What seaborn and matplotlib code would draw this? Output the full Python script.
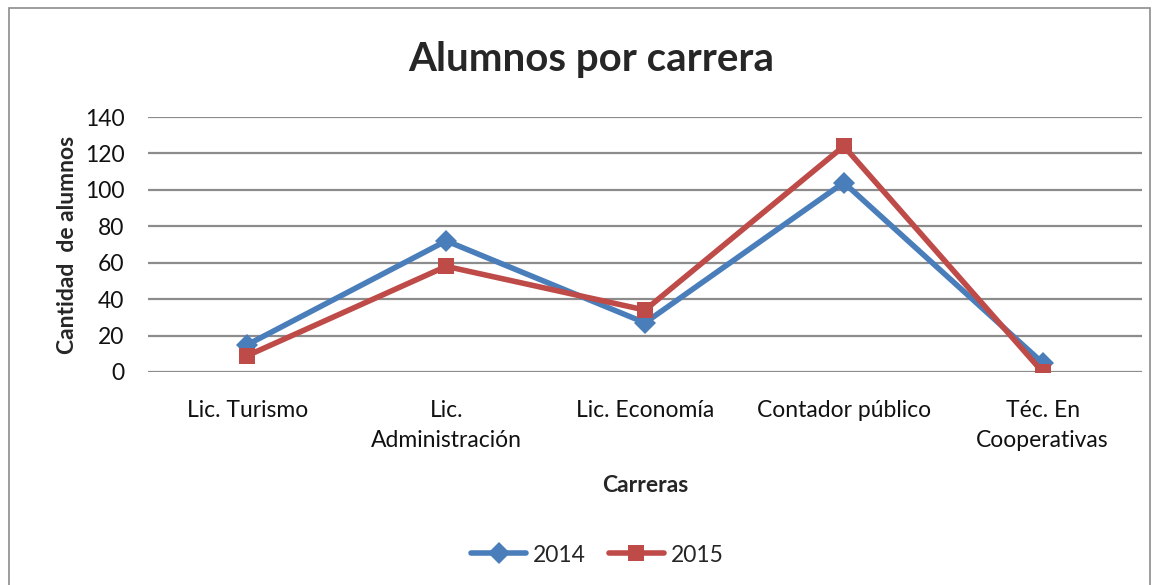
import matplotlib
matplotlib.use("Agg")
import matplotlib.pyplot as plt
import seaborn as sns
import pandas as pd
from matplotlib.lines import Line2D
from matplotlib.patches import Rectangle

# ------------------------------------------------------------------ #
# Data
# ------------------------------------------------------------------ #
carreras = [
    "Lic. Turismo",
    "Lic.\nAdministración",
    "Lic. Economía",
    "Contador público",
    "Téc. En\nCooperativas",
]
alumnos_2014 = [15, 72, 27, 104, 5]
alumnos_2015 = [9, 58, 34, 124, 0]
years = ["2014", "2015"]
y_ticks = [0, 20, 40, 60, 80, 100, 120, 140]

colors = {"2014": "#4a7ebb", "2015": "#be4b48"}
markers = {"2014": "D", "2015": "s"}

df = pd.DataFrame({
    "carrera": carreras * 2,
    "alumnos": alumnos_2014 + alumnos_2015,
    "anio": [years[0]] * len(carreras) + [years[1]] * len(carreras),
})

sns.set_style("white")
plt.rcParams["font.family"] = ["Lato", "DejaVu Sans"]

FS = 16.5

fig = plt.figure(figsize=(11.6, 5.85), dpi=100)
ax = fig.add_axes([148 / 1160, 1 - 372 / 585, 994 / 1160, 255 / 585])

sns.lineplot(
    data=df, x="carrera", y="alumnos", hue="anio", style="anio",
    palette=colors, markers=markers, dashes=False, sort=False,
    linewidth=4, markersize=11, markeredgewidth=0, legend=False, ax=ax,
)

ax.set_xlim(-0.5, len(carreras) - 0.5)
ax.set_ylim(0, 140)
ax.set_yticks(y_ticks)
ax.yaxis.grid(True, color="#8c8c8c", linewidth=1.6)
ax.set_axisbelow(True)
for s in ax.spines.values():
    s.set_visible(False)
ax.tick_params(axis="both", length=0, labelsize=FS, colors="#111111")
ax.tick_params(axis="y", pad=17)
ax.tick_params(axis="x", pad=20)
ax.set_xlabel("Carreras", fontsize=FS, fontweight="bold", labelpad=17)
ax.set_ylabel("Cantidad  de alumnos", fontsize=FS, fontweight="bold", labelpad=5)
for lbl in ax.get_xticklabels():
    lbl.set_linespacing(1.55)

fig.text(0.51, 1 - 60 / 585, "Alumnos por carrera", ha="center", va="center",
         fontsize=29, fontweight="bold")

handles = [
    Line2D([0], [0], color=colors[y], marker=markers[y], linewidth=4,
           markersize=11, markeredgewidth=0)
    for y in years
]
fig.legend(handles, years, loc="center", bbox_to_anchor=(0.515, 1 - 555 / 585),
           ncol=2, frameon=False, fontsize=FS, handlelength=2.4,
           columnspacing=1.0, handletextpad=0.3)

fig.patches.append(Rectangle((9 / 1160, -0.01), 1141 / 1160, 1 - 8 / 585 + 0.01,
                             transform=fig.transFigure, fill=False,
                             edgecolor="#8c8c8c", linewidth=1.2))

fig.savefig("out.png", dpi=100)
